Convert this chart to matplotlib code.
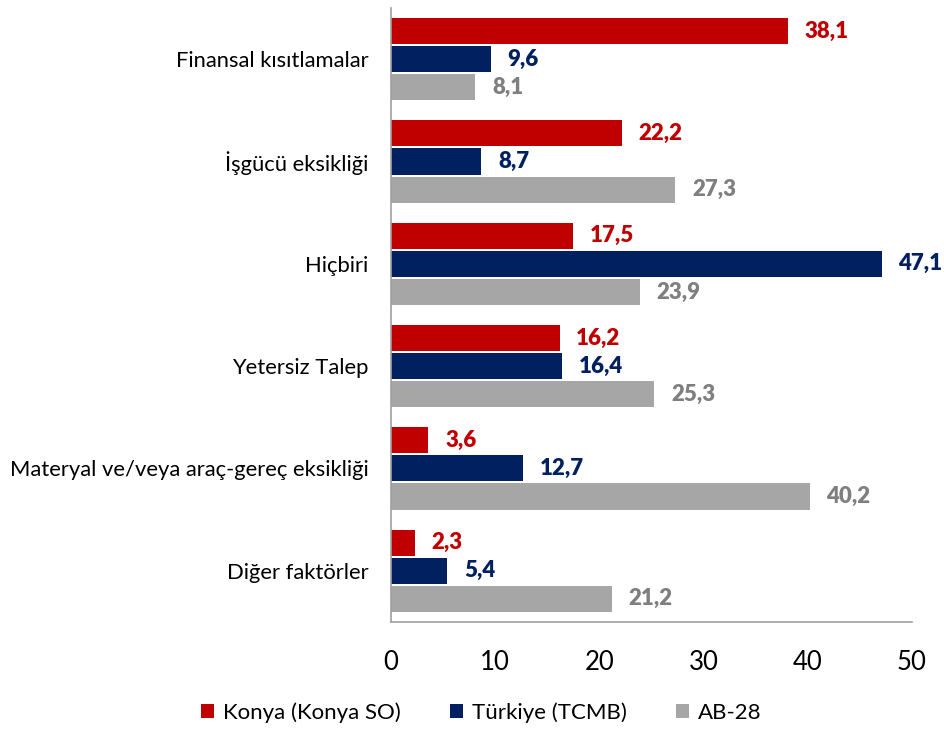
import matplotlib.pyplot as plt
import numpy as np

plt.rcParams['font.family'] = ['Lato', 'DejaVu Sans']

categories = ['Finansal kısıtlamalar', 'İşgücü eksikliği', 'Hiçbiri', 'Yetersiz Talep',
              'Materyal ve/veya araç-gereç eksikliği', 'Diğer faktörler']
konya = [38.1, 22.2, 17.5, 16.2, 3.6, 2.3]
turkiye = [9.6, 8.7, 47.1, 16.4, 12.7, 5.4]
ab28 = [8.1, 27.3, 23.9, 25.3, 40.2, 21.2]
series_names = ['Konya (Konya SO)', 'Türkiye (TCMB)', 'AB-28']

bar_colors = ['#C00000', '#002060', '#A6A6A6']
label_colors = ['#C00000', '#002060', '#7F7F7F']

fig = plt.figure(figsize=(9.44, 7.29), dpi=100)
ax = fig.add_axes([0.414, 0.147, 0.552, 0.842])

y = np.arange(len(categories))
h = 0.255
step = 0.275
for i, (vals, name) in enumerate(zip([konya, turkiye, ab28], series_names)):
    pos = y + (i - 1) * step
    ax.barh(pos, vals, height=h, color=bar_colors[i], label=name)
    for p, v in zip(pos, vals):
        ax.text(v + 1.6, p, f'{v:.1f}'.replace('.', ','), va='center', ha='left',
                fontsize=16, fontweight='heavy', color=label_colors[i])

ax.set_xlim(0, 50)
ax.set_ylim(len(categories) - 0.5, -0.5)
ax.set_xticks(range(0, 51, 10))
ax.set_yticks(y)
ax.set_yticklabels(categories, fontsize=15.8)
ax.tick_params(axis='x', length=0, pad=20, labelsize=18.5)
ax.tick_params(axis='y', length=0, pad=16)
for s in ['top', 'right']:
    ax.spines[s].set_visible(False)
ax.spines['left'].set_color('#A0A0A0')
ax.spines['bottom'].set_color('#A0A0A0')
ax.spines['left'].set_linewidth(1.2)
ax.spines['bottom'].set_linewidth(1.2)

fig.legend(loc='center', bbox_to_anchor=(0.51, 0.022), ncol=3, frameon=False,
           fontsize=16, handlelength=0.6, handleheight=0.6, handletextpad=0.4,
           columnspacing=2.2)

fig.savefig('out.png', dpi=100)
